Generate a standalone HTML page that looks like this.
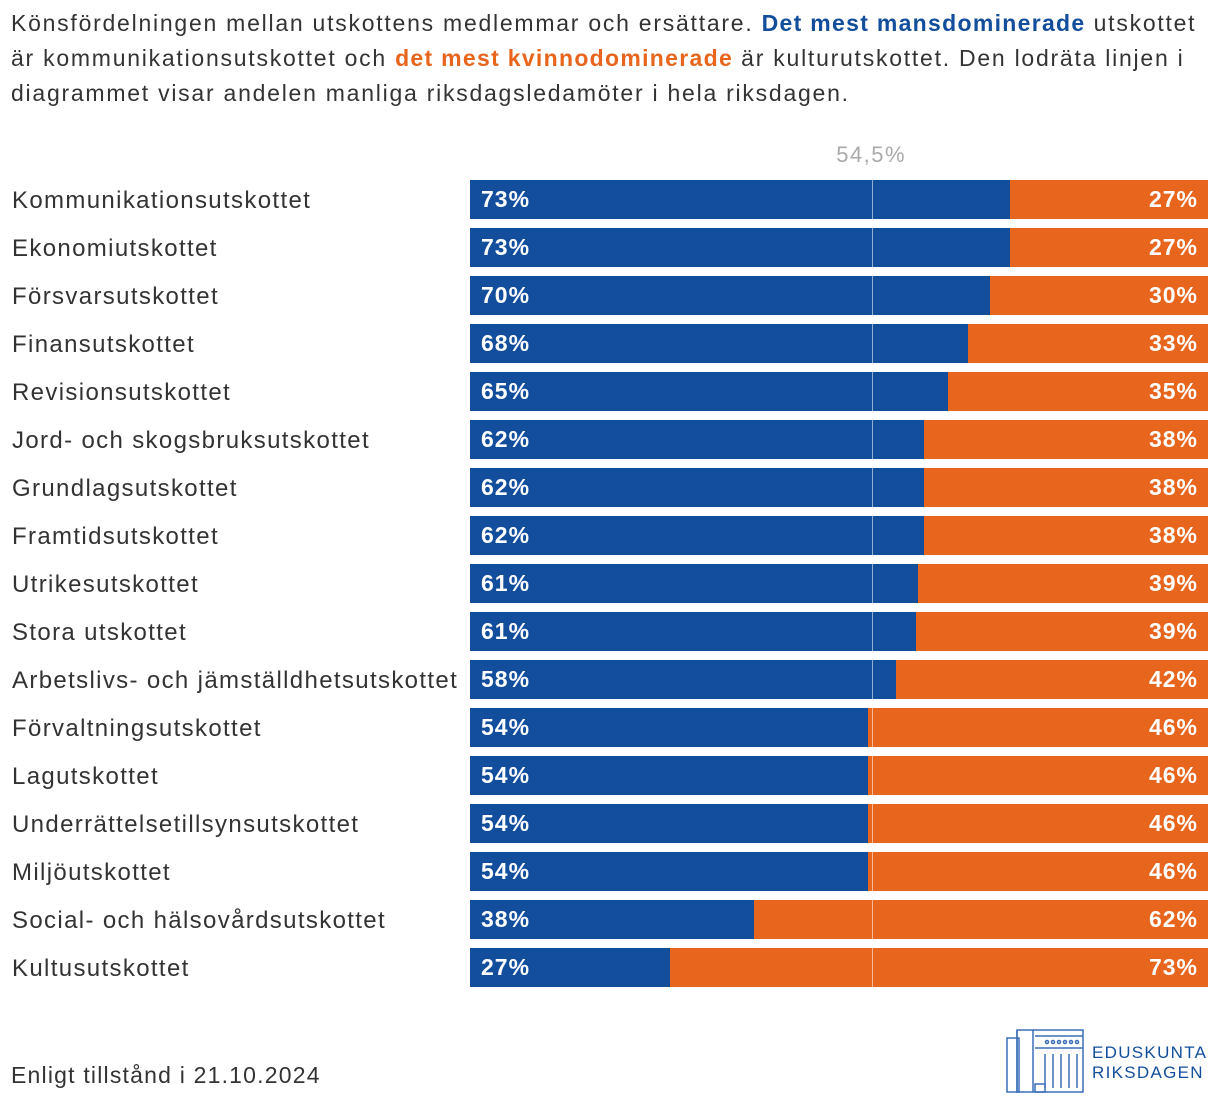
<!DOCTYPE html>
<html><head><meta charset="utf-8">
<style>
body{margin:0;width:1220px;height:1108px;background:#fff;font-family:"Liberation Sans",sans-serif;color:#333;position:relative;overflow:hidden}
#title{position:absolute;left:11px;top:6px;width:1205px;font-size:23px;line-height:35px;color:#333;letter-spacing:1.75px}
.b{color:#124e9c;font-weight:bold;letter-spacing:1.3px}.o{color:#e8651d;font-weight:bold;letter-spacing:1.3px}
.lbl{position:absolute;left:12px;font-size:24px;color:#333;white-space:nowrap;letter-spacing:1.35px}
.bar{position:absolute;height:39px}
.val{position:absolute;font-size:23px;font-weight:bold;color:#fff;line-height:39px;letter-spacing:1px}
#foot{position:absolute;left:11px;top:1062px;font-size:23px;color:#333;letter-spacing:1.2px}
</style></head><body>
<div id="title">Könsfördelningen mellan utskottens medlemmar och ersättare. <span class="b">Det mest mansdominerade</span> utskottet är kommunikationsutskottet och <span class="o">det mest kvinnodominerade</span> är kulturutskottet. Den lodräta linjen i diagrammet visar andelen manliga riksdagsledamöter i hela riksdagen.</div>
<div id="chart"></div>
<div id="foot">Enligt tillstånd i 21.10.2024</div>
<svg style="position:absolute;left:1005px;top:1026px" width="80" height="72" fill="none" stroke="#3a6fb8" stroke-width="1.5">
<rect x="12" y="4" width="66" height="62"/><rect x="2" y="12" width="12" height="54"/><line x1="12" y1="4" x2="12" y2="66"/><line x1="28" y1="4" x2="28" y2="66"/>
<line x1="30" y1="10" x2="78" y2="10"/><line x1="30" y1="22" x2="78" y2="22"/>
<circle cx="42" cy="16" r="1.5"/><circle cx="48" cy="16" r="1.5"/><circle cx="54" cy="16" r="1.5"/><circle cx="60" cy="16" r="1.5"/><circle cx="66" cy="16" r="1.5"/><circle cx="72" cy="16" r="1.5"/>
<line x1="40" y1="28" x2="40" y2="62"/><line x1="48" y1="28" x2="48" y2="62"/><line x1="56" y1="28" x2="56" y2="62"/><line x1="64" y1="28" x2="64" y2="62"/><line x1="72" y1="28" x2="72" y2="62"/>
<rect x="30" y="58" width="10" height="8"/>
</svg>
<div style="position:absolute;left:1092px;top:1043px;font-size:17px;line-height:20px;color:#124e9c;letter-spacing:1.3px">EDUSKUNTA<br>RIKSDAGEN</div>
<script>
const categories=["Kommunikationsutskottet","Ekonomiutskottet","Försvarsutskottet","Finansutskottet","Revisionsutskottet","Jord- och skogsbruksutskottet","Grundlagsutskottet","Framtidsutskottet","Utrikesutskottet","Stora utskottet","Arbetslivs- och jämställdhetsutskottet","Förvaltningsutskottet","Lagutskottet","Underrättelsetillsynsutskottet","Miljöutskottet","Social- och hälsovårdsutskottet","Kultusutskottet"];
const maleShare=[73.2,73.2,70.5,67.5,64.8,61.5,61.5,61.5,60.7,60.4,57.7,53.9,53.9,53.9,53.9,38.5,27.1];
const maleLabels=["73%","73%","70%","68%","65%","62%","62%","62%","61%","61%","58%","54%","54%","54%","54%","38%","27%"];
const femaleLabels=["27%","27%","30%","33%","35%","38%","38%","38%","39%","39%","42%","46%","46%","46%","46%","62%","73%"];
const refValue=54.5;
const refLabel="54,5%";
const X0=470,W=738,Y0=180,STEP=48,H=39;
const x=v=>X0+v/100*W;
const y=i=>Y0+i*STEP;
const c=document.getElementById('chart');
function mk(cls,style,text){const d=document.createElement('div');d.className=cls;Object.assign(d.style,style);if(text!==undefined)d.textContent=text;c.appendChild(d);return d;}
categories.forEach((cat,i)=>{
 const l=mk('lbl',{top:(y(i)+7)+'px'},cat);
 
 
 const bm=mk('bar',{left:X0+'px',top:y(i)+'px',width:(x(maleShare[i])-X0)+'px',background:'#124e9c'});
 
 
 const bf=mk('bar',{left:x(maleShare[i])+'px',top:y(i)+'px',width:(X0+W-x(maleShare[i]))+'px',background:'#e8651d'});
 
 
 const vm=mk('val',{left:(X0+11)+'px',top:y(i)+'px'},maleLabels[i]);
 
 
 const vf=mk('val',{right:(1220-X0-W+10)+'px',top:y(i)+'px'},femaleLabels[i]);
 
 
});
const rl=mk('bar',{left:(x(refValue)-0.5)+'px',top:Y0+'px',width:'1px',height:(y(categories.length-1)+H-Y0)+'px',background:'rgba(255,255,255,0.55)'});


const rt=mk('lbl',{left:(x(refValue)-36)+'px',top:'142px',color:'#aaa',fontSize:'22px',letterSpacing:'1.5px'},refLabel);


</script>
</body></html>
